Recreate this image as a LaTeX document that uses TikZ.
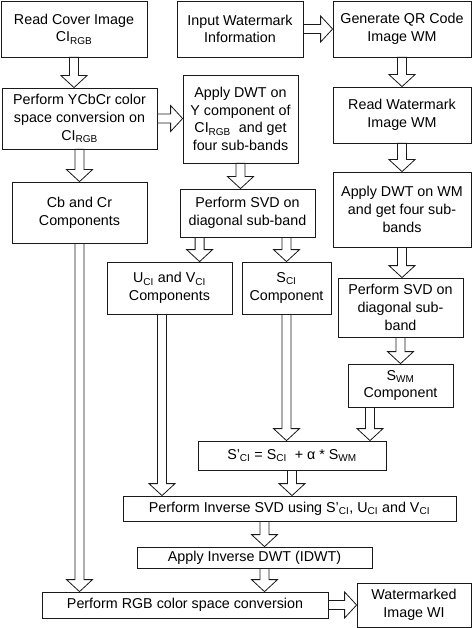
\documentclass[tikz,border=0pt]{standalone}
\usepackage{fontspec}
\setmainfont{Liberation Sans}
\usepackage{tikz}
\usetikzlibrary{positioning, calc}
\definecolor{edgegray}{HTML}{1A1A1A}

% hollow block arrow from #1 to tip #2
\newcommand{\hollowarrow}[2]{%
  \path #1 coordinate (ha-s) #2 coordinate (ha-t);
  \coordinate (ha-b) at ($(ha-t)!12pt!(ha-s)$);
  \draw[hollow] ($(ha-s)!4.5pt!90:(ha-t)$) -- ($(ha-b)!4.5pt!90:(ha-t)$)
    -- ($(ha-b)!13pt!90:(ha-t)$) -- (ha-t) -- ($(ha-b)!13pt!-90:(ha-t)$)
    -- ($(ha-b)!4.5pt!-90:(ha-t)$) -- ($(ha-s)!4.5pt!-90:(ha-t)$) -- cycle;}
\newcommand{\sbs}[1]{\textsubscript{#1}}

\begin{document}
\begin{tikzpicture}[x=1pt, y=-1pt,
  box/.style={rectangle, draw=edgegray, line width=0.8pt, fill=white,
    align=center, inner sep=0pt, font=\fontsize{14.3}{17.7}\selectfont},
  hollow/.style={draw=edgegray, line width=0.8pt, fill=white, line join=miter}]
\useasboundingbox (0,0) rectangle (472,628);

% cover image branch
\node[box, minimum width=146, minimum height=56] (cover) at (74,29) {Read Cover Image\\CI\sbs{RGB}};
\node[box, minimum width=155, minimum height=61] (ycbcr) at (79.5,118.5) {Perform YCbCr color\\space conversion on\\CI\sbs{RGB}};
\node[box, minimum width=135, minimum height=61] (cbcr) at (79.5,212.5) {Cb and Cr\\Components};

% luminance branch
\node[box, minimum width=126, minimum height=56] (input) at (240,29) {Input Watermark\\Information};
\node[box, minimum width=115, minimum height=88] (dwty) at (240.5,119) {Apply DWT on\\Y component of\\CI\sbs{RGB}~ and get\\four sub-bands};
\node[box, minimum width=135, minimum height=48] (svdci) at (247.5,213) {Perform SVD on\\diagonal sub-band};
\node[box, minimum width=125, minimum height=52] (uv) at (169.5,288) {U\sbs{CI} and V\sbs{CI}\\Components};
\node[box, minimum width=89, minimum height=52] (sci) at (286.5,288) {S\sbs{CI}\\Component};

% watermark branch
\node[box, minimum width=138, minimum height=56] (qr) at (402,29) {Generate QR Code\\Image WM};
\node[box, minimum width=138, minimum height=56] (readwm) at (402,115) {Read Watermark\\Image WM};
\node[box, minimum width=138, minimum height=75] (dwtwm) at (402,209.5) {Apply DWT on WM\\and get four sub-\\bands};
\node[box, minimum width=125, minimum height=59] (svdwm) at (400.5,307.5) {Perform SVD on\\diagonal sub-\\band};
\node[box, minimum width=105, minimum height=43] (swm) at (400.5,385.5) {S\sbs{WM}\\Component};

% embedding and reconstruction
\node[box, minimum width=188, minimum height=29] (sprime) at (292,455.5) {S'\sbs{CI} = S\sbs{CI}~ + α * S\sbs{WM}};
\node[box, minimum width=333, minimum height=25] (invsvd) at (289.5,508.5) {Perform Inverse SVD using S'\sbs{CI}, U\sbs{CI} and V\sbs{CI}};
\node[box, minimum width=235, minimum height=21] (idwt) at (254.5,557.5) {Apply Inverse DWT (IDWT)};
\node[box, minimum width=286, minimum height=26] (rgb) at (185,605) {Perform RGB color space conversion};
\node[box, minimum width=114, minimum height=44] (wmk) at (414,605) {Watermarked\\Image WI};

\coordinate (uvout) at ($(uv.south)+(-7.5,0)$);
\coordinate (swmout) at ($(swm.south)+(-30.5,0)$);
\coordinate (ciout) at ($(svdci.south west)+(20,0)$);
\coordinate (mid) at ($(idwt.north)+(10,0)$);

\hollowarrow{(cover.south)}{(cover.south |- ycbcr.north)}
\hollowarrow{(ycbcr.east)}{(ycbcr.east -| dwty.west)}
\hollowarrow{(ycbcr.south)}{(cbcr.north)}
\hollowarrow{(input.east)}{(qr.west)}
\hollowarrow{(dwty.south)}{(dwty.south |- svdci.north)}
\hollowarrow{(ciout)}{(ciout |- uv.north)}
\hollowarrow{(sci.north |- svdci.south)}{(sci.north)}
\hollowarrow{(qr.south)}{(readwm.north)}
\hollowarrow{(readwm.south)}{(dwtwm.north)}
\hollowarrow{(dwtwm.south)}{(dwtwm.south |- svdwm.north)}
\hollowarrow{(svdwm.south)}{(swm.north)}
\hollowarrow{(sci.south)}{(sci.south |- sprime.north)}
\hollowarrow{(swmout)}{(swmout |- sprime.north)}
\hollowarrow{(uvout)}{(uvout |- invsvd.north)}
\hollowarrow{(sprime.south)}{(sprime.south |- invsvd.north)}
\hollowarrow{(invsvd.south -| mid)}{(mid)}
\hollowarrow{(idwt.south -| mid)}{(mid |- rgb.north)}
\hollowarrow{(cbcr.south)}{(cbcr.south |- rgb.north)}
\hollowarrow{(rgb.east)}{(rgb.east -| wmk.west)}
\end{tikzpicture}
\end{document}
